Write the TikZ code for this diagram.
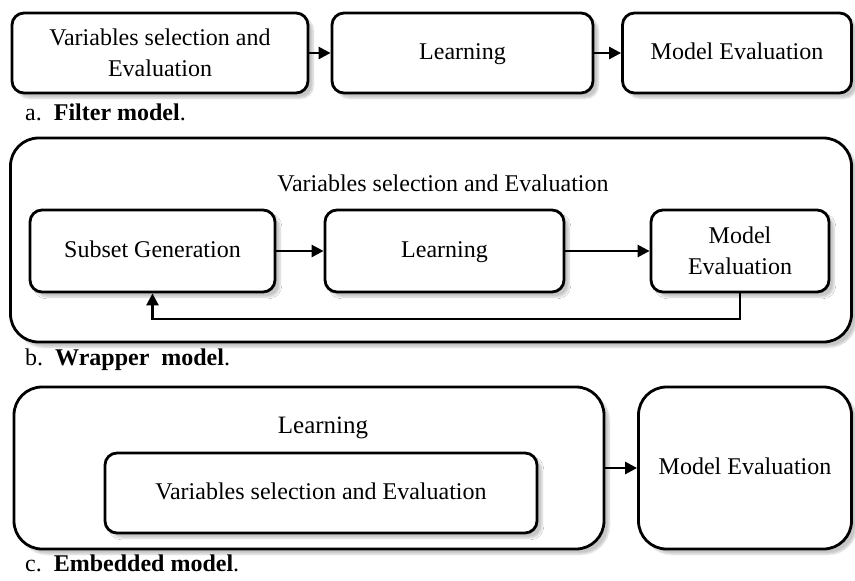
\documentclass[tikz,border=0pt]{standalone}
\usepackage{fontspec}
\setmainfont{Liberation Serif}
\usetikzlibrary{arrows.meta,shadows.blur}
\begin{document}
\begin{tikzpicture}[x=1pt,y=-1pt,
  box/.style={draw=black,line width=2.8pt,fill=white,rounded corners=12pt,align=center,
    font=\fontsize{24}{31}\selectfont,inner sep=0pt,
    blur shadow={shadow xshift=5pt,shadow yshift=-5pt,shadow opacity=22,shadow blur steps=6}},
  one/.style={text height=17pt,text depth=5pt},
  bigbox/.style={box,rounded corners=28pt},
  conn/.style={line width=2.6pt,-{Triangle[length=12pt,width=12pt]}},
  caption/.style={anchor=west,font=\fontsize{24}{28}\selectfont,inner sep=0pt}]
\useasboundingbox (0,0) rectangle (855,581);
% a. Filter model
\node[box,minimum width=296pt,minimum height=80pt] (a1) at (160,53) {Variables selection and\\Evaluation};
\node[box,one,minimum width=261pt,minimum height=80pt] (a2) at (462.5,53) {Learning};
\node[box,one,minimum width=229pt,minimum height=80pt] (a3) at (737,53) {Model Evaluation};
\draw[conn] (a1) -- (a2);
\draw[conn] (a2) -- (a3);
\node[caption] (la) at (25,112) {a.\ \ \textbf{Filter model}.};
% b. Wrapper model
\node[bigbox,minimum width=841pt,minimum height=204pt] (bo) at (431,240) {};
\node[font=\fontsize{24}{28}\selectfont,one] (bt) at (443,185) {Variables selection and Evaluation};
\node[box,one,minimum width=245pt,minimum height=82pt] (b1) at (152.5,251) {Subset Generation};
\node[box,one,minimum width=239pt,minimum height=82pt] (b2) at (444.5,251) {Learning};
\node[box,minimum width=178pt,minimum height=82pt] (b3) at (740,251) {Model\\Evaluation};
\draw[conn] (b1) -- (b2);
\draw[conn] (b2) -- (b3);
\coordinate (fb) at (740,319);
\draw[conn] (b3.south) -- (fb) -| (b1.south);
\node[caption] (lb) at (25,360) {b.\ \ \textbf{Wrapper\ \ model}.};
% c. Embedded model
\node[bigbox,minimum width=590pt,minimum height=162pt] (co) at (309,468) {};
\node[font=\fontsize{25}{30}\selectfont,one] (ct) at (323,427) {Learning};
\node[box,one,minimum width=432pt,minimum height=80pt] (c1) at (321,493) {Variables selection and Evaluation};
\node[bigbox,one,minimum width=213pt,minimum height=162pt] (c3) at (745,468) {Model Evaluation};
\draw[conn] (co) -- (c3);
\node[caption] (lc) at (25,563) {c.\ \ \textbf{Embedded model}.};
\end{tikzpicture}
\end{document}
